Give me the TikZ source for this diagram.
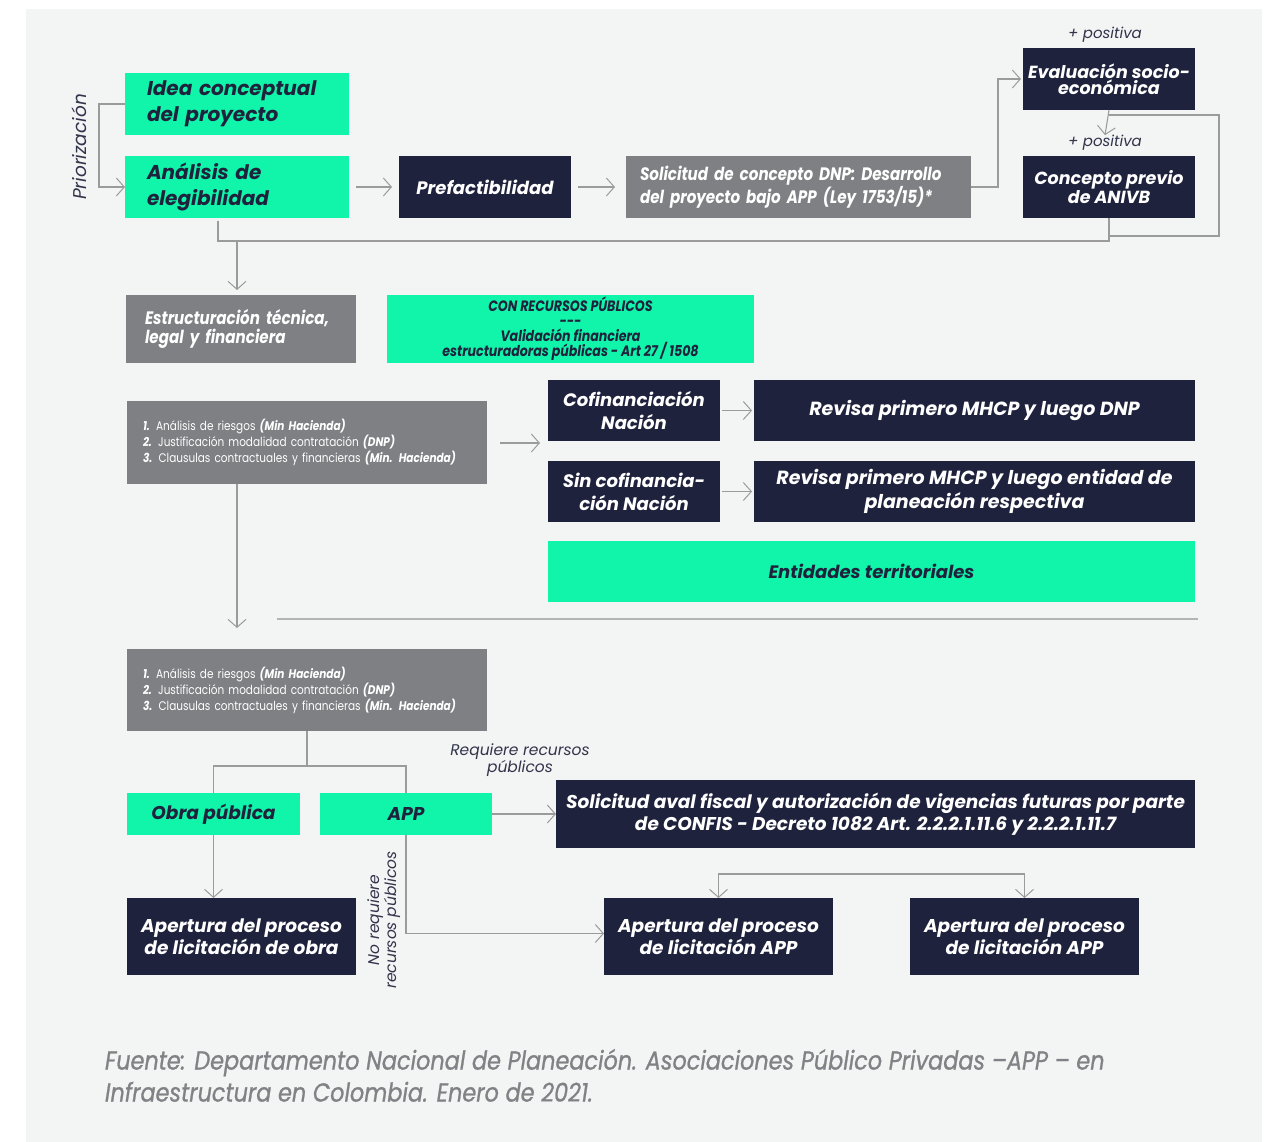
\documentclass[tikz,border=0pt]{standalone}
\usepackage{fontspec}
\setmainfont{Poppins}
\newfontfamily\condf[FakeStretch=0.84]{Poppins}
\newfontfamily\footf[FakeStretch=0.86,FakeBold=0.9]{Poppins}
\usetikzlibrary{arrows.meta}
\definecolor{bgc}{RGB}{243,244,244}
\definecolor{mint}{RGB}{16,245,170}
\definecolor{navy}{RGB}{31,34,61}
\definecolor{boxgray}{RGB}{127,128,132}
\definecolor{linegray}{RGB}{155,155,155}
\definecolor{sepgray}{RGB}{180,180,180}
\definecolor{footgray}{RGB}{128,130,133}
\definecolor{lbl}{RGB}{50,52,75}
\begin{document}
\begin{tikzpicture}[x=1pt,y=-1pt,
  base/.style={anchor=north west, inner sep=0pt, outer sep=0pt},
  mintbox/.style={base, fill=mint, text=navy},
  navybox/.style={base, fill=navy, text=white},
  graybox/.style={base, fill=boxgray, text=white},
  lefttext/.style 2 args={inner xsep=#1, text width=#2, align=left},
  conn/.style={draw=linegray, line width=1.1pt},
  barb/.tip={Straight Barb[length=8pt,width=18pt,line width=1pt]},
  arr/.style={conn, -barb},
  heavy/.style={font=\fontsize{20}{26}\selectfont\bfseries\itshape},
  mheavy/.style={font=\fontsize{18}{23}\selectfont\bfseries\itshape},
  nheavy/.style={font=\condf\fontsize{18}{19}\selectfont\bfseries\itshape},
  lighttext/.style={font=\fontsize{15}{17}\selectfont\itshape, text=lbl, inner sep=0pt},
  listtext/.style={font=\condf\fontsize{12.5}{16}\selectfont},
]
% canvas
\useasboundingbox (0,0) rectangle (1271,1142);
\fill[white] (0,0) rectangle (1271,1142);
\fill[bgc] (26,9) rectangle (1262,1142);

% ---------- row 1 ----------
\node[mintbox, minimum width=224pt, minimum height=62pt, lefttext={22pt}{180pt}, heavy]
  (idea) at (125,73) {Idea conceptual\\del proyecto};
\node[mintbox, minimum width=224pt, minimum height=62pt, lefttext={22pt}{180pt}, heavy]
  (anal) at (125,156) {Análisis de\\elegibilidad};
\node[navybox, minimum width=172pt, minimum height=62pt, mheavy]
  (pref) at (399,156) {Prefactibilidad};
\node[graybox, minimum width=345pt, minimum height=62pt, lefttext={14pt}{317pt}, nheavy]
  (sol) at (626,156) {Solicitud de concepto DNP: Desarrollo\\del proyecto bajo APP (Ley 1753/15)*};
\node[navybox, minimum width=172pt, minimum height=62pt, align=center,
      font=\fontsize{17.5}{16}\selectfont\bfseries\itshape]
  (eval) at (1023,48) {Evaluación socio-\\económica};
\node[navybox, minimum width=172pt, minimum height=62pt, align=center,
      font=\fontsize{17.5}{16}\selectfont\bfseries\itshape]
  (conc) at (1023,156) {Concepto previo\\de ANIVB};
\node[lighttext] (pos1) at (1105,35) {+ positiva};
\node[lighttext] (pos2) at (1105,143) {+ positiva};
\node[lighttext, font=\fontsize{18.5}{20}\selectfont\itshape, rotate=90] (prio) at (79,147) {Priorización};

% ---------- row 2 ----------
\node[graybox, minimum width=230pt, minimum height=68pt, lefttext={19pt}{192pt}, nheavy]
  (estr) at (126,295) {Estructuración técnica,\\legal y financiera};
\node[mintbox, minimum width=367pt, minimum height=68pt, align=center,
      font=\condf\fontsize{15}{15}\selectfont\bfseries\itshape]
  (con) at (387,295) {CON RECURSOS PÚBLICOS\\---\\Validación financiera\\estructuradoras públicas - Art 27 / 1508};

% ---------- row 3 ----------
\node[graybox, minimum width=360pt, minimum height=83pt, lefttext={16pt}{328pt}, listtext]
  (list1) at (127,401) {{\bfseries\itshape 1.} Análisis de riesgos {\bfseries\itshape (Min Hacienda)}\\
  {\bfseries\itshape 2.} Justificación modalidad contratación {\bfseries\itshape (DNP)}\\
  {\bfseries\itshape 3.} Clausulas contractuales y financieras {\bfseries\itshape (Min. Hacienda)}};
\node[navybox, minimum width=172pt, minimum height=61pt, align=center, mheavy]
  (cof) at (548,380) {Cofinanciación\\Nación};
\node[navybox, minimum width=441pt, minimum height=61pt, align=center,
      font=\fontsize{19}{24}\selectfont\bfseries\itshape]
  (rev1) at (754,380) {Revisa primero MHCP y luego DNP};
\node[navybox, minimum width=172pt, minimum height=61pt, align=center, mheavy]
  (sin) at (548,461) {Sin cofinancia-\\ción Nación};
\node[navybox, minimum width=441pt, minimum height=61pt, align=center,
      font=\fontsize{19}{24}\selectfont\bfseries\itshape]
  (rev2) at (754,461) {Revisa primero MHCP y luego entidad de\\planeación respectiva};
\node[mintbox, minimum width=647pt, minimum height=61pt, mheavy]
  (ent) at (548,541) {Entidades territoriales};

% ---------- row 4 ----------
\node[graybox, minimum width=360pt, minimum height=82pt, lefttext={16pt}{328pt}, listtext]
  (list2) at (127,649) {{\bfseries\itshape 1.} Análisis de riesgos {\bfseries\itshape (Min Hacienda)}\\
  {\bfseries\itshape 2.} Justificación modalidad contratación {\bfseries\itshape (DNP)}\\
  {\bfseries\itshape 3.} Clausulas contractuales y financieras {\bfseries\itshape (Min. Hacienda)}};
\node[mintbox, minimum width=173pt, minimum height=42pt, font=\fontsize{18.5}{20}\selectfont\bfseries\itshape]
  (obra) at (127,793) {Obra pública};
\node[mintbox, minimum width=172pt, minimum height=42pt, font=\fontsize{18.5}{20}\selectfont\bfseries\itshape]
  (app) at (320,793) {APP};
\node[navybox, minimum width=639pt, minimum height=68pt, align=center,
      font=\fontsize{18.5}{22}\selectfont\bfseries\itshape]
  (aval) at (556,780) {Solicitud aval fiscal y autorización de vigencias futuras por parte\\de CONFIS - Decreto 1082 Art. 2.2.2.1.11.6 y 2.2.2.1.11.7};
\node[navybox, minimum width=229pt, minimum height=77pt, align=center,
      font=\fontsize{18.5}{22}\selectfont\bfseries\itshape]
  (ap0) at (127,898) {Apertura del proceso\\de licitación de obra};
\node[navybox, minimum width=229pt, minimum height=77pt, align=center,
      font=\fontsize{18.5}{22}\selectfont\bfseries\itshape]
  (ap1) at (604,898) {Apertura del proceso\\de licitación APP};
\node[navybox, minimum width=229pt, minimum height=77pt, align=center,
      font=\fontsize{18.5}{22}\selectfont\bfseries\itshape]
  (ap2) at (910,898) {Apertura del proceso\\de licitación APP};
\node[lighttext, align=center, font=\fontsize{15.5}{17}\selectfont\itshape]
  (req) at (520,760) {Requiere recursos\\públicos};
\node[lighttext, align=center, rotate=90, font=\fontsize{15.5}{17}\selectfont\itshape]
  (noreq) at (384,920) {No requiere\\recursos públicos};

% footer
\node[base, align=left, text=footgray, font=\footf\fontsize{26}{32}\selectfont\itshape]
  (foot) at (105,1049) {Fuente: Departamento Nacional de Planeación. Asociaciones Público Privadas –APP – en\\Infraestructura en Colombia. Enero de 2021.};

% ---------- connectors ----------
\draw[arr] (idea.west) -- ++(-26,0) |- (anal.west);
\draw[arr, shorten <=7pt, shorten >=7pt] (anal.east) -- (pref.west);
\draw[arr, shorten <=7pt, shorten >=11pt] (pref.east) -- (sol.west);
\draw[arr, shorten >=2pt] (sol.east) -- ++(27,0) |- (eval.west);
\draw[arr] (eval.south) -- (pos2.north);
\coordinate (loopA) at (1109,115);
\coordinate (loopB) at (1219,236);
\draw[conn] (loopA) -| (loopB) -- (loopB -| conc.south);
\coordinate (j1) at (218,221);
\draw[conn] (conc.south) -- ++(0,23) -| (j1);
\coordinate (j2) at (237,241);
\draw[arr, shorten >=5pt] (j2) -- (j2 |- estr.north);

\coordinate (brk) at (540,443);
\draw[arr, shorten <=13pt] (list1.east |- brk) -- (brk);
\draw[arr, shorten <=2pt, shorten >=2pt] (cof.east) -- (rev1.west);
\draw[arr, shorten <=2pt, shorten >=2pt] (sin.east) -- (rev2.west);
\coordinate (dn) at (237,628);
\draw[arr] (dn |- list1.south) -- (dn);
\coordinate (s1) at (277,619);
\coordinate (s2) at (1198,619);
\draw[draw=sepgray, line width=2pt] (s1) -- (s2);

\draw[conn] (list2.south) -- ++(0,35) coordinate (fork);
\draw[conn] (obra.north) |- (fork) -| (app.north);
\draw[arr] (app.east) -- (aval.west);
\draw[arr] (obra.south) -- (obra.south |- ap0.north);
\draw[arr] (app.south) |- ([yshift=3pt]ap1.west);
\draw[conn, barb-barb] (ap1.north) -- ++(0,-24) -| (ap2.north);
\end{tikzpicture}
\end{document}
